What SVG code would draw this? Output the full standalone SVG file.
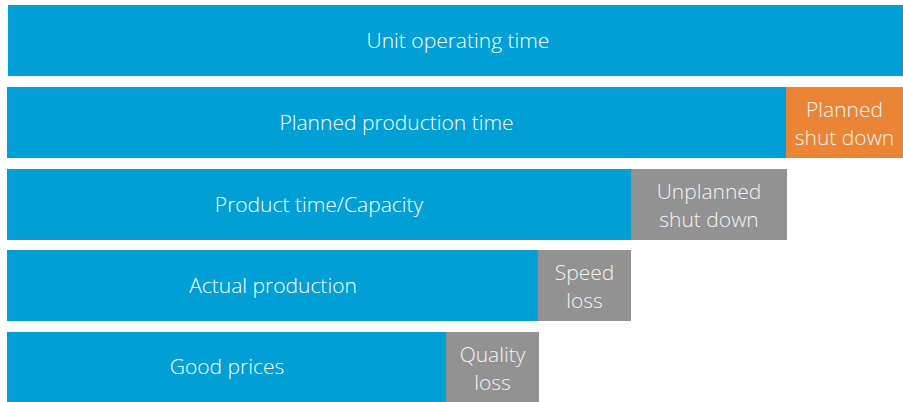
<svg xmlns="http://www.w3.org/2000/svg" width="903" height="402" viewBox="0 0 903 402">
  <style>
    .blue { fill: #009fd6; }
    .orange { fill: #e98535; }
    .gray { fill: #929293; }
    text { font-family: "Open Sans", "Liberation Sans", sans-serif; font-weight: 300; font-size: 21px; fill: #ffffff; text-anchor: middle; }
    .sub { fill: #f2f2f2; }
  </style>
  <rect width="903" height="402" fill="#ffffff"/>

  <!-- Row 1: unit operating time -->
  <g id="unit-operating-time">
    <rect class="blue" x="8" y="5" width="895" height="71"/>
    <text x="458" y="47.5">Unit operating time</text>
  </g>

  <!-- Row 2 -->
  <g id="planned-production-time">
    <rect class="blue" x="7" y="87" width="779" height="71"/>
    <text x="396.5" y="129.5">Planned production time</text>
  </g>
  <g id="planned-shut-down">
    <rect class="orange" x="786" y="87" width="117" height="71"/>
    <text class="sub" x="844.5" y="117">Planned</text>
    <text class="sub" x="844.5" y="145">shut down</text>
  </g>

  <!-- Row 3 -->
  <g id="product-time-capacity">
    <rect class="blue" x="7" y="169" width="624" height="71"/>
    <text x="319" y="211.5">Product time/Capacity</text>
  </g>
  <g id="unplanned-shut-down">
    <rect class="gray" x="631" y="169" width="156" height="71"/>
    <text class="sub" x="709" y="199">Unplanned</text>
    <text class="sub" x="709" y="227">shut down</text>
  </g>

  <!-- Row 4 -->
  <g id="actual-production">
    <rect class="blue" x="7" y="250" width="531" height="71"/>
    <text x="273" y="292.5">Actual production</text>
  </g>
  <g id="speed-loss">
    <rect class="gray" x="538" y="250" width="93" height="71"/>
    <text class="sub" x="584.5" y="280">Speed</text>
    <text class="sub" x="584.5" y="308">loss</text>
  </g>

  <!-- Row 5 -->
  <g id="good-prices">
    <rect class="blue" x="7" y="332" width="439" height="70"/>
    <text x="227" y="374">Good prices</text>
  </g>
  <g id="quality-loss">
    <rect class="gray" x="446" y="332" width="93" height="70"/>
    <text class="sub" x="492.5" y="362">Quality</text>
    <text class="sub" x="492.5" y="390">loss</text>
  </g>

  <!-- no connectors in this chart -->
  <g id="connectors"/>
</svg>
